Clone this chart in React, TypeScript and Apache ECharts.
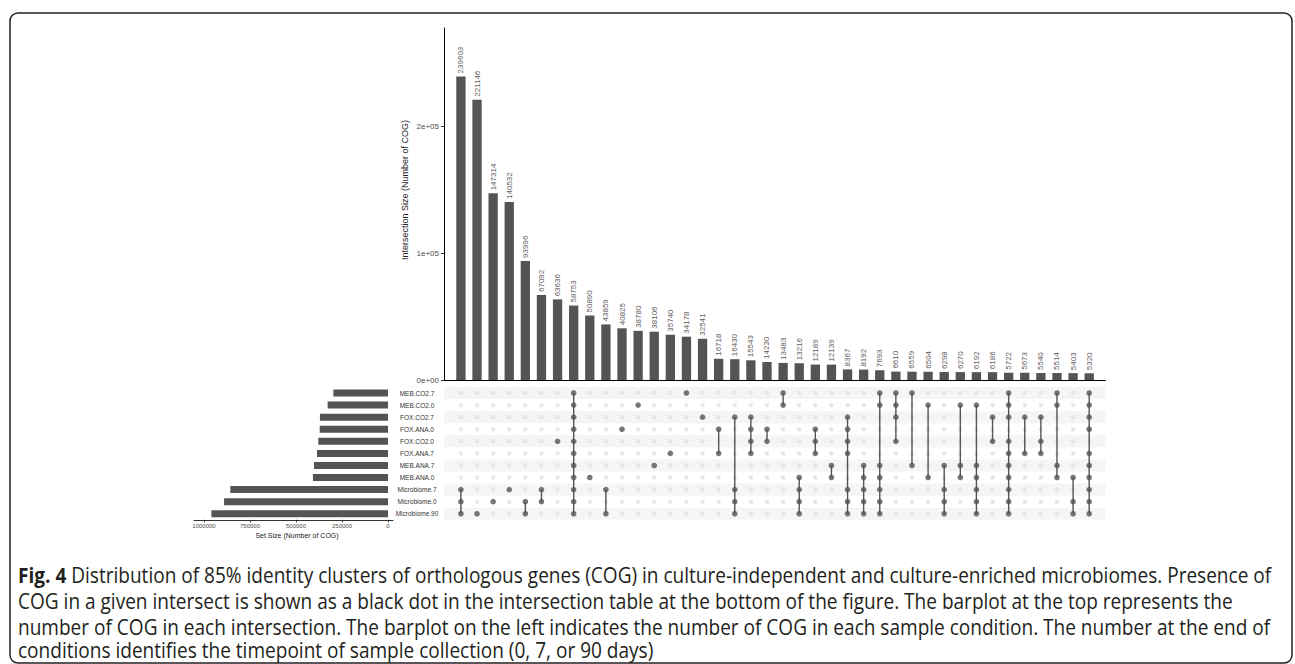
import React, { useEffect, useRef } from 'react';
import * as echarts from 'echarts';

const setNames = [
  'MEB.CO2.7', 'MEB.CO2.0', 'FOX.CO2.7', 'FOX.ANA.0', 'FOX.CO2.0', 'FOX.ANA.7',
  'MEB.ANA.7', 'MEB.ANA.0', 'Microbiome.7', 'Microbiome.0', 'Microbiome.90',
];
const setSizes = [297000, 328000, 370000, 371000, 379000, 386000, 402000, 408000, 857000, 891000, 960000];

const intersectionSizes = [
  239603, 221146, 147314, 140532, 93996, 67092, 63636, 58753, 50890, 43859,
  40825, 38780, 38106, 35740, 34178, 32541, 16718, 16430, 15543, 14230,
  13483, 13216, 12189, 12139, 8367, 8192, 7693, 6610, 6559, 6504,
  6298, 6270, 6192, 6186, 5722, 5673, 5540, 5514, 5403, 5320,
];

const ALL = setNames;
const intersectionSets: string[][] = [
  ['Microbiome.7', 'Microbiome.0', 'Microbiome.90'],
  ['Microbiome.90'],
  ['Microbiome.0'],
  ['Microbiome.7'],
  ['Microbiome.0', 'Microbiome.90'],
  ['Microbiome.7', 'Microbiome.0'],
  ['FOX.CO2.0'],
  ALL,
  ['MEB.ANA.0'],
  ['Microbiome.7', 'Microbiome.90'],
  ['FOX.ANA.0'],
  ['MEB.CO2.0'],
  ['MEB.ANA.7'],
  ['FOX.ANA.7'],
  ['MEB.CO2.7'],
  ['FOX.CO2.7'],
  ['FOX.ANA.0', 'FOX.ANA.7'],
  ['FOX.CO2.7', 'Microbiome.7', 'Microbiome.0', 'Microbiome.90'],
  ['FOX.CO2.7', 'FOX.ANA.0', 'FOX.CO2.0', 'FOX.ANA.7'],
  ['FOX.ANA.0', 'FOX.CO2.0'],
  ['MEB.CO2.7', 'MEB.CO2.0'],
  ['MEB.ANA.0', 'Microbiome.7', 'Microbiome.0', 'Microbiome.90'],
  ['FOX.ANA.0', 'FOX.CO2.0', 'FOX.ANA.7'],
  ['MEB.ANA.7', 'MEB.ANA.0'],
  ['FOX.CO2.7', 'FOX.ANA.0', 'FOX.CO2.0', 'FOX.ANA.7', 'Microbiome.7', 'Microbiome.0', 'Microbiome.90'],
  ['MEB.ANA.7', 'MEB.ANA.0', 'Microbiome.7', 'Microbiome.0', 'Microbiome.90'],
  ['MEB.CO2.7', 'MEB.CO2.0', 'MEB.ANA.7', 'MEB.ANA.0', 'Microbiome.7', 'Microbiome.0', 'Microbiome.90'],
  ['MEB.CO2.7', 'MEB.CO2.0', 'FOX.CO2.7', 'FOX.CO2.0'],
  ['MEB.CO2.7', 'MEB.ANA.7'],
  ['MEB.CO2.0', 'MEB.ANA.0'],
  ['MEB.ANA.7', 'Microbiome.7', 'Microbiome.0', 'Microbiome.90'],
  ['MEB.CO2.0', 'MEB.ANA.7', 'MEB.ANA.0'],
  ['MEB.CO2.0', 'MEB.ANA.7', 'MEB.ANA.0', 'Microbiome.7', 'Microbiome.0', 'Microbiome.90'],
  ['FOX.CO2.7', 'FOX.CO2.0'],
  ALL.filter((s) => s !== 'FOX.ANA.0'),
  ['FOX.CO2.7', 'FOX.ANA.7'],
  ['FOX.CO2.7', 'FOX.CO2.0', 'FOX.ANA.7'],
  ['MEB.CO2.7', 'MEB.CO2.0', 'MEB.ANA.7', 'MEB.ANA.0'],
  ['MEB.ANA.0', 'Microbiome.0', 'Microbiome.90'],
  ALL.filter((s) => s !== 'FOX.CO2.0'),
];

const topTicks = [0, 100000, 200000];
const topTickLabels = ['0e+00', '1e+05', '2e+05'];
const setTicks = [0, 250000, 500000, 750000, 1000000];

const captionTitle = 'Fig. 4';
const captionLines = [
  ' Distribution of 85% identity clusters of orthologous genes (COG) in culture-independent and culture-enriched microbiomes. Presence of',
  'COG in a given intersect is shown as a black dot in the intersection table at the bottom of the figure. The barplot at the top represents the',
  'number of COG in each intersection. The barplot on the left indicates the number of COG in each sample condition. The number at the end of',
  'conditions identifies the timepoint of sample collection (0, 7, or 90 days)',
];

const FONT = 'Liberation Sans';
const CAP_FONT = 'Open Sans';
const CAP_SIZE = 21.5;
const DARK = '#545454';

function measure(text: string, font: string): number {
  const ctx = document.createElement('canvas').getContext('2d');
  if (!ctx) return text.length * 9;
  ctx.font = font;
  return ctx.measureText(text).width;
}

export default function App() {
  const ref = useRef<HTMLDivElement>(null);
  useEffect(() => {
    if (!ref.current) return;
    const chart = echarts.init(ref.current, null, { renderer: 'svg' });

    const n = intersectionSizes.length;
    const greyDots: number[][] = [];
    const darkDots: number[][] = [];
    const links: number[][] = [];
    intersectionSets.forEach((members, c) => {
      const rows = members.map((m) => setNames.indexOf(m));
      setNames.forEach((_, r) => {
        if (rows.indexOf(r) >= 0) darkDots.push([c, r]);
        else greyDots.push([c, r]);
      });
      if (rows.length > 1) links.push([c, Math.min(...rows), Math.max(...rows)]);
    });
    const stripes = setNames.map((_, r) => r).filter((r) => r % 2 === 0).map((r) => [0, r]);

    const line1W =
      measure(captionTitle, `bold ${CAP_SIZE}px "${CAP_FONT}"`) +
      measure(captionLines[0], `${CAP_SIZE}px "${CAP_FONT}"`);
    const capScale = 1254 / line1W;
    const capY = [575, 601, 627, 650];

    const xMin = -1.05;
    const xMax = n;
    const panelLeft = 444;
    const panelWidth = 661.3;
    const rowTop = 387;
    const rowHeight = 132.8;

    const option: any = {
      animation: false,
      textStyle: { fontFamily: FONT },
      grid: [
        { left: panelLeft, top: 28, width: panelWidth, height: 352 },
        { left: panelLeft, top: rowTop, width: panelWidth, height: rowHeight },
        { left: 194, top: rowTop, width: 199, height: rowHeight },
      ],
      xAxis: [
        {
          gridIndex: 0, type: 'value', min: xMin, max: xMax,
          axisLine: { show: true, onZero: false, lineStyle: { color: '#000', width: 1 } },
          axisTick: { show: false }, axisLabel: { show: false }, splitLine: { show: false },
        },
        {
          gridIndex: 1, type: 'value', min: xMin, max: xMax, show: false,
        },
        {
          gridIndex: 2, type: 'value', inverse: true, min: -27174, max: 1054348,
          axisLine: { show: true, onZero: false, lineStyle: { color: '#333', width: 1 } },
          axisTick: { show: true, length: 2.5, customValues: setTicks, lineStyle: { color: '#333' } },
          axisLabel: {
            show: true, customValues: setTicks, margin: 3, fontSize: 6, color: '#4d4d4d',
            formatter: (v: number) => String(v),
          },
          splitLine: { show: false },
        },
      ],
      yAxis: [
        {
          gridIndex: 0, type: 'value', min: 0, max: 277800,
          axisLine: { show: true, onZero: false, lineStyle: { color: '#000', width: 1 } },
          axisTick: { show: true, length: 3, customValues: topTicks, lineStyle: { color: '#333' } },
          axisLabel: {
            show: true, customValues: topTicks, margin: 5, fontSize: 8, color: '#4d4d4d',
            formatter: (v: number) => topTickLabels[topTicks.indexOf(v)] ?? '',
          },
          splitLine: { show: false },
        },
        {
          gridIndex: 1, type: 'category', data: setNames, inverse: true, show: false,
        },
        {
          gridIndex: 2, type: 'category', data: setNames, inverse: true, position: 'right',
          axisLine: { show: false }, axisTick: { show: false },
          axisLabel: { show: true, margin: 24, align: 'center', fontSize: 6.5, color: '#333' },
        },
      ],
      series: [
        {
          type: 'bar', xAxisIndex: 0, yAxisIndex: 0,
          data: intersectionSizes.map((v, i) => [i, v]),
          barWidth: 9.3,
          itemStyle: { color: DARK },
          label: {
            show: true, position: 'top', rotate: 90, align: 'left', verticalAlign: 'middle',
            distance: 3, fontSize: 8, color: '#606060',
            formatter: (p: any) => String(p.value[1]),
          },
        },
        {
          type: 'custom', xAxisIndex: 1, yAxisIndex: 1, z: 1,
          data: stripes,
          renderItem: (params: any, api: any) => {
            const c = api.coord([0, api.value(1)]);
            const h = api.size([0, 1])[1];
            const cs = params.coordSys;
            return {
              type: 'rect',
              shape: { x: cs.x, y: c[1] - h / 2, width: cs.width, height: h },
              style: { fill: '#f5f5f5' },
            };
          },
        },
        {
          type: 'scatter', xAxisIndex: 1, yAxisIndex: 1, z: 2,
          data: greyDots, symbolSize: 4.5,
          itemStyle: { color: '#e2e2e2' },
        },
        {
          type: 'custom', xAxisIndex: 1, yAxisIndex: 1, z: 3,
          data: links,
          encode: { x: 0, y: [1, 2] },
          renderItem: (params: any, api: any) => {
            const p1 = api.coord([api.value(0), api.value(1)]);
            const p2 = api.coord([api.value(0), api.value(2)]);
            return {
              type: 'line',
              shape: { x1: p1[0], y1: p1[1], x2: p2[0], y2: p2[1] },
              style: { stroke: DARK, lineWidth: 1.4 },
            };
          },
        },
        {
          type: 'scatter', xAxisIndex: 1, yAxisIndex: 1, z: 4,
          data: darkDots, symbolSize: 5.6,
          itemStyle: { color: DARK },
        },
        {
          type: 'bar', xAxisIndex: 2, yAxisIndex: 2,
          data: setSizes, barWidth: 7,
          itemStyle: { color: DARK },
        },
      ],
      graphic: [
        {
          type: 'rect', silent: true,
          shape: { x: 10, y: 13, width: 1282, height: 650, r: 8 },
          style: { fill: 'none', stroke: '#231f20', lineWidth: 1.5 },
        },
        {
          type: 'text', x: 405, y: 190, rotation: Math.PI / 2,
          style: {
            text: 'Intersection Size (Number of COG)', fontSize: 9, fontFamily: FONT,
            fill: '#222', align: 'center', verticalAlign: 'middle',
          },
        },
        {
          type: 'text', x: 297, y: 535,
          style: {
            text: 'Set Size (Number of COG)', fontSize: 7, fontFamily: FONT,
            fill: '#222', align: 'center', verticalAlign: 'middle',
          },
        },
        ...captionLines.map((t, i) => ({
          type: 'text', x: 18, y: capY[i], scaleX: capScale,
          style: {
            text: i === 0 ? `{b|${captionTitle}}${t}` : t,
            fontSize: CAP_SIZE, fontFamily: CAP_FONT, fill: '#231f20',
            align: 'left', verticalAlign: 'middle', lineHeight: 18,
            rich: {
              b: { fontSize: CAP_SIZE, fontFamily: CAP_FONT, fontWeight: 'bold', fill: '#231f20', lineHeight: 18 },
            },
          },
        })),
      ],
    };
    chart.setOption(option);
    return () => chart.dispose();
  }, []);
  return (
    <div
      ref={ref}
      style={{ position: 'absolute', left: 0, top: 0, width: 1295, height: 664, background: '#fff' }}
    />
  );
}
